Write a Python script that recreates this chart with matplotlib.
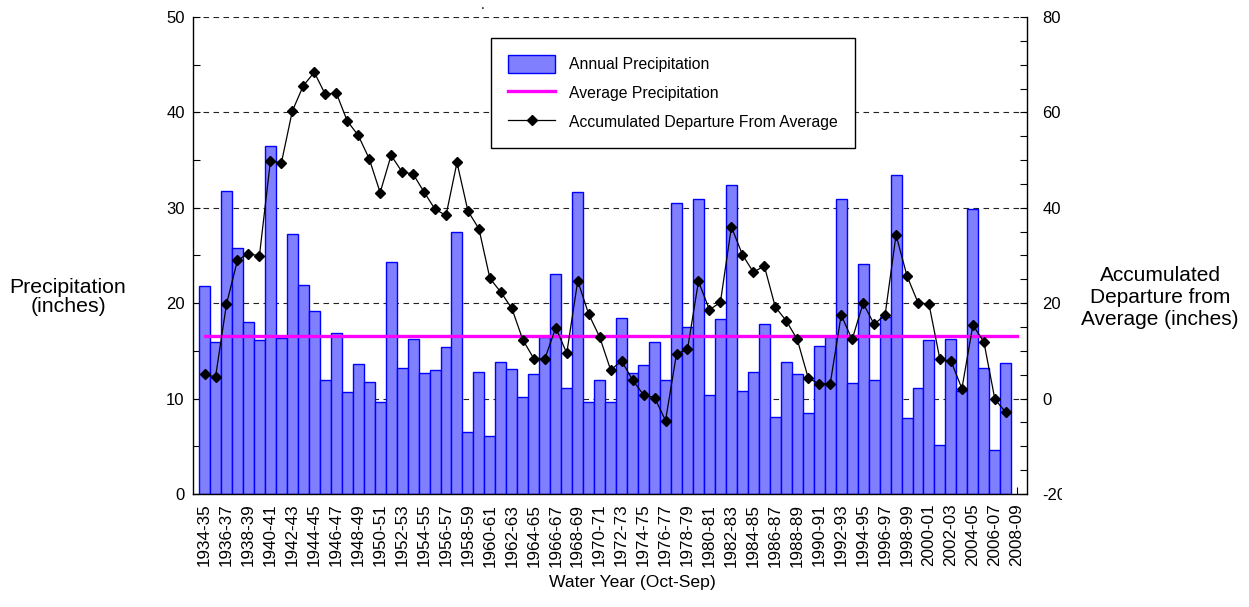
import matplotlib
matplotlib.use("Agg")
import matplotlib.pyplot as plt
import numpy as np
from matplotlib.ticker import MultipleLocator
from matplotlib.transforms import Bbox

plt.rcParams['font.family'] = ['Liberation Sans', 'DejaVu Sans']
plt.rcParams['axes.unicode_minus'] = False

water_years = [
    "1934-35", "1935-36", "1936-37", "1937-38", "1938-39", "1939-40", "1940-41", "1941-42",
    "1942-43", "1943-44", "1944-45", "1945-46", "1946-47", "1947-48", "1948-49", "1949-50",
    "1950-51", "1951-52", "1952-53", "1953-54", "1954-55", "1955-56", "1956-57", "1957-58",
    "1958-59", "1959-60", "1960-61", "1961-62", "1962-63", "1963-64", "1964-65", "1965-66",
    "1966-67", "1967-68", "1968-69", "1969-70", "1970-71", "1971-72", "1972-73", "1973-74",
    "1974-75", "1975-76", "1976-77", "1977-78", "1978-79", "1979-80", "1980-81", "1981-82",
    "1982-83", "1983-84", "1984-85", "1985-86", "1986-87", "1987-88", "1988-89", "1989-90",
    "1990-91", "1991-92", "1992-93", "1993-94", "1994-95", "1995-96", "1996-97", "1997-98",
    "1998-99", "1999-00", "2000-01", "2001-02", "2002-03", "2003-04", "2004-05", "2005-06",
    "2006-07", "2007-08", "2008-09",
]

annual_precip = [
    21.8, 15.9, 31.8, 25.8, 18.0, 16.1, 36.5, 16.3, 27.3, 21.9, 19.2, 11.9,
    16.9, 10.7, 13.6, 11.7, 9.6, 24.3, 13.2, 16.2, 12.7, 13.0, 15.4, 27.5, 6.5,
    12.8, 6.1, 13.8, 13.1, 10.2, 12.6, 16.5, 23.1, 11.1, 31.7, 9.6, 11.9,
    9.6, 18.4, 12.7, 13.5, 15.9, 11.9, 30.5, 17.5, 30.9, 10.4, 18.3, 32.4, 10.8,
    12.8, 17.8, 8.1, 13.8, 12.6, 8.5, 15.5, 16.5, 30.9, 11.6, 24.1, 11.9,
    18.6, 33.4, 8.0, 11.1, 16.1, 5.1, 16.2, 10.8, 29.9, 13.2, 4.6, 13.7,
]

accum_departure = [
    5.1, 4.5, 19.8, 29.0, 30.4, 29.9, 49.8, 49.4, 60.3, 65.6, 68.4, 63.8,
    64.1, 58.2, 55.2, 50.3, 43.2, 51.0, 47.5, 47.1, 43.3, 39.7, 38.4, 49.5, 39.3,
    35.6, 25.2, 22.3, 18.9, 12.3, 8.4, 8.3, 14.9, 9.5, 24.7, 17.7, 12.9,
    6.0, 7.9, 3.9, 0.75, 0.2, -4.6, 9.4, 10.3, 24.6, 18.6, 20.2, 36.0, 30.2,
    26.5, 27.8, 19.2, 16.3, 12.4, 4.3, 3.1, 3.1, 17.5, 12.4, 20.0, 15.6,
    17.5, 34.3, 25.7, 20.1, 19.8, 8.2, 7.9, 2.1, 15.4, 11.9, -0.1, -2.9,
]

average_precip = 16.55

W, H = 1249, 607
fig = plt.figure(figsize=(W / 100, H / 100), dpi=100)
ax1 = fig.add_axes([193 / W, 1 - 494 / H, 834 / W, 477 / H])

x_bars = np.arange(len(annual_precip))
x_all = np.arange(len(water_years))

bars = ax1.bar(x_bars, annual_precip, width=1.0, color='#8080FF',
               edgecolor='#0000FF', linewidth=1.0, zorder=2,
               label='Annual Precipitation')
avg_line, = ax1.plot(x_all, [average_precip] * len(water_years), color='#FF00FF',
                     linewidth=2.4, zorder=3, label='Average Precipitation')

ax1.set_xlim(-1.05, 74.93)
ax1.set_ylim(0, 50)
ax1.set_axisbelow(True)
ax1.yaxis.set_major_locator(MultipleLocator(10))
ax1.yaxis.set_minor_locator(MultipleLocator(5))
ax1.grid(axis='y', which='major', color='#222222', linestyle=(0, (5, 4)), linewidth=0.8)
ax1.tick_params(axis='y', which='both', direction='in', length=5, width=0.8,
                labelsize=12, pad=6)
ax1.set_xticks(x_all[::2])
ax1.set_xticklabels(water_years[::2], rotation=90, fontsize=12.3)
ax1.tick_params(axis='x', direction='in', length=5, width=0.8, pad=7)
ax1.spines['top'].set_visible(False)
for s in ['left', 'right', 'bottom']:
    ax1.spines[s].set_linewidth(1.0)

ax2 = ax1.twinx()
dep_line, = ax2.plot(x_bars, accum_departure, color='black', linewidth=0.9,
                     marker='D', markersize=5, markerfacecolor='black',
                     markeredgecolor='black', zorder=4,
                     label='Accumulated Departure From Average')
ax2.set_ylim(-20, 80)
ax2.yaxis.set_major_locator(MultipleLocator(20))
ax2.yaxis.set_minor_locator(MultipleLocator(5))
ax2.tick_params(axis='y', which='both', direction='in', length=5, width=0.8,
                labelsize=12, pad=11)
for s in ax2.spines.values():
    s.set_visible(False)

clip = Bbox.from_extents(0, 0, 1062, H)
for t in ax2.yaxis.get_major_ticks():
    t.label2.set_clip_box(clip)
    t.label2.set_clip_on(True)

leg = ax2.legend(handles=[bars, avg_line, dep_line], loc='upper left',
                 bbox_to_anchor=(491 / W, 1 - 38 / H), bbox_transform=fig.transFigure,
                 borderaxespad=0, fontsize=11.3, frameon=True, fancybox=False,
                 edgecolor='black', framealpha=1, handlelength=3.0,
                 handleheight=1.35, handletextpad=0.9, labelspacing=0.72,
                 borderpad=1.1)
leg.get_frame().set_linewidth(1.0)

fig.text(632 / W, 1 - 583 / H, 'Water Year (Oct-Sep)', ha='center', va='center',
         fontsize=12.6)
fig.text(68 / W, 1 - 297 / H, 'Precipitation\n(inches)', ha='center', va='center',
         fontsize=15.3, multialignment='center', linespacing=1.05)
fig.text(1160 / W, 1 - 297 / H, 'Accumulated\nDeparture from\nAverage (inches)',
         ha='center', va='center', fontsize=15, multialignment='center', linespacing=1.2)
fig.text(483 / W, 1 - 5 / H, '.', ha='center', va='center', fontsize=10)

fig.savefig('out.png', dpi=100)
